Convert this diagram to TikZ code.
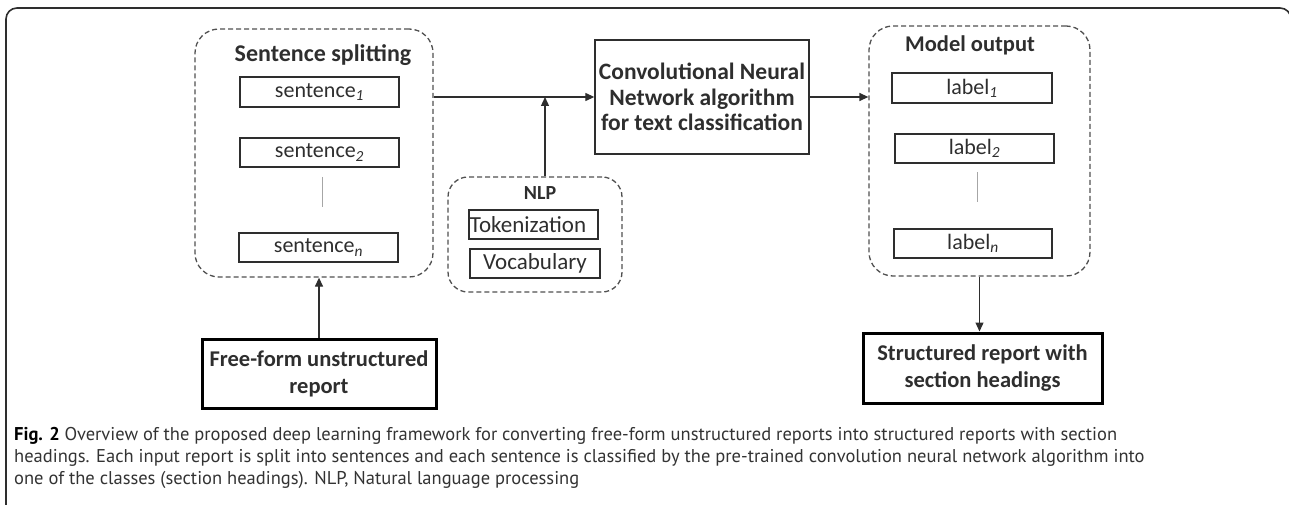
\documentclass[tikz,border=0pt]{standalone}
\usepackage{fontspec}
\setmainfont{Carlito}
\newfontfamily\capfont{PT Sans}
\usetikzlibrary{arrows.meta,calc}
\definecolor{ink}{HTML}{2E2E2E}
\definecolor{dash}{HTML}{505050}
\definecolor{captxt}{HTML}{333333}
\begin{document}
\begin{tikzpicture}[x=1pt,y=-1pt,
  box/.style={draw=ink,line width=1.4pt,text=ink,inner sep=0pt,font=\fontsize{22}{25}\selectfont},
  bigbox/.style={draw=black,line width=3pt,text=ink,align=center,inner sep=0pt,font=\bfseries\fontsize{22.5}{27}\selectfont},
  group/.style={draw=dash,dashed,dash pattern=on 5pt off 3pt,line width=1.3pt,rounded corners=24pt,inner sep=0pt},
  gtitle/.style={text=ink,inner sep=0pt,font=\bfseries\fontsize{22.5}{26}\selectfont},
  arr/.style={draw=ink,line width=1.3pt,-{Triangle[length=9pt,width=8pt]}},
  dots/.style={draw=gray!70,line width=1pt},
  capline/.style={anchor=base west,inner sep=0pt,text=captxt,font=\capfont\fontsize{18.5}{22}\selectfont}]
\useasboundingbox (0,0) rectangle (1289,505);
% outer frame
\draw[draw=ink,line width=1.6pt,rounded corners=11pt] (6,520) -- (6,8) -- (1291,8) -- (1291,520);
% sentence splitting group
\node[group,minimum width=238pt,minimum height=248pt] (ss) at (314,153) {};
\node[gtitle,font=\bfseries\fontsize{24}{28}\selectfont] (sstitle) at (323,55) {Sentence splitting};
\node[box,minimum width=159pt,minimum height=30pt] (s1) at (319.5,92) {sentence\textsubscript{\textit{1}}};
\node[box,minimum width=159pt,minimum height=29pt] (s2) at (319.5,152.5) {sentence\textsubscript{\textit{2}}};
\node[box,minimum width=159pt,minimum height=29pt] (sn) at (318.5,247.5) {sentence\textsubscript{\textit{n}}};
\draw[dots] (322,177) -- (322,207);
% free form
\node[bigbox,minimum width=234pt,minimum height=69pt] (ff) at (319,373.5) {Free-form unstructured\\report};
% CNN
\node[box,align=center,minimum width=214pt,minimum height=114pt,font=\bfseries\fontsize{23.5}{25.5}\selectfont] (cnn) at (702,97) {Convolutional Neural\\Network algorithm\\for text classification};
% NLP group
\node[group,rounded corners=20pt,minimum width=174pt,minimum height=115pt] (nlp) at (535,234.5) {};
\node[gtitle,font=\bfseries\fontsize{20}{22}\selectfont] (nlptitle) at (540,193) {NLP};
\node[box,font=\fontsize{23}{26}\selectfont,minimum width=129pt,minimum height=29pt] (tok) at (533.5,224.5) {\hspace*{-11pt}Tokenization};
\node[box,font=\fontsize{23}{26}\selectfont,minimum width=130pt,minimum height=29pt] (voc) at (535,263.5) {Vocabulary};
% model output group
\node[group,minimum width=221pt,minimum height=250pt] (mo) at (979.5,151) {};
\node[gtitle] (motitle) at (970,45) {Model output};
\node[box,minimum width=160pt,minimum height=30pt] (l1) at (972,88) {label\textsubscript{\textit{1}}};
\node[box,minimum width=159pt,minimum height=29pt] (l2) at (974.5,148.5) {label\textsubscript{\textit{2}}};
\node[box,minimum width=158pt,minimum height=29pt] (ln) at (973,243.5) {label\textsubscript{\textit{n}}};
\draw[dots] (977,172) -- (977,202);
% structured
\node[bigbox,minimum width=239pt,minimum height=70pt] (st) at (982.5,368) {Structured report with\\section headings};
% connectors
\draw[arr] (ff.north) -- (ff.north |- ss.south);
\draw[arr] (ss.east |- cnn.west) -- (cnn.west);
\coordinate (nlptop) at ([xshift=10pt]nlp.north);
\draw[arr] (nlptop) -- (nlptop |- cnn.west);
\draw[arr] (cnn.east) -- (cnn.east -| mo.west);
\draw[arr] (mo.south) -- (mo.south |- st.north);
% caption
\node[capline] (cap1) at (14,440) {{\color{black}\bfseries Fig. 2} Overview of the proposed deep learning framework for converting free-form unstructured reports into structured reports with section};
\node[capline] (cap2) at (14,462) {headings. Each input report is split into sentences and each sentence is classified by the pre-trained convolution neural network algorithm into};
\node[capline] (cap3) at (14,484) {one of the classes (section headings). NLP, Natural language processing};
\end{tikzpicture}
\end{document}
